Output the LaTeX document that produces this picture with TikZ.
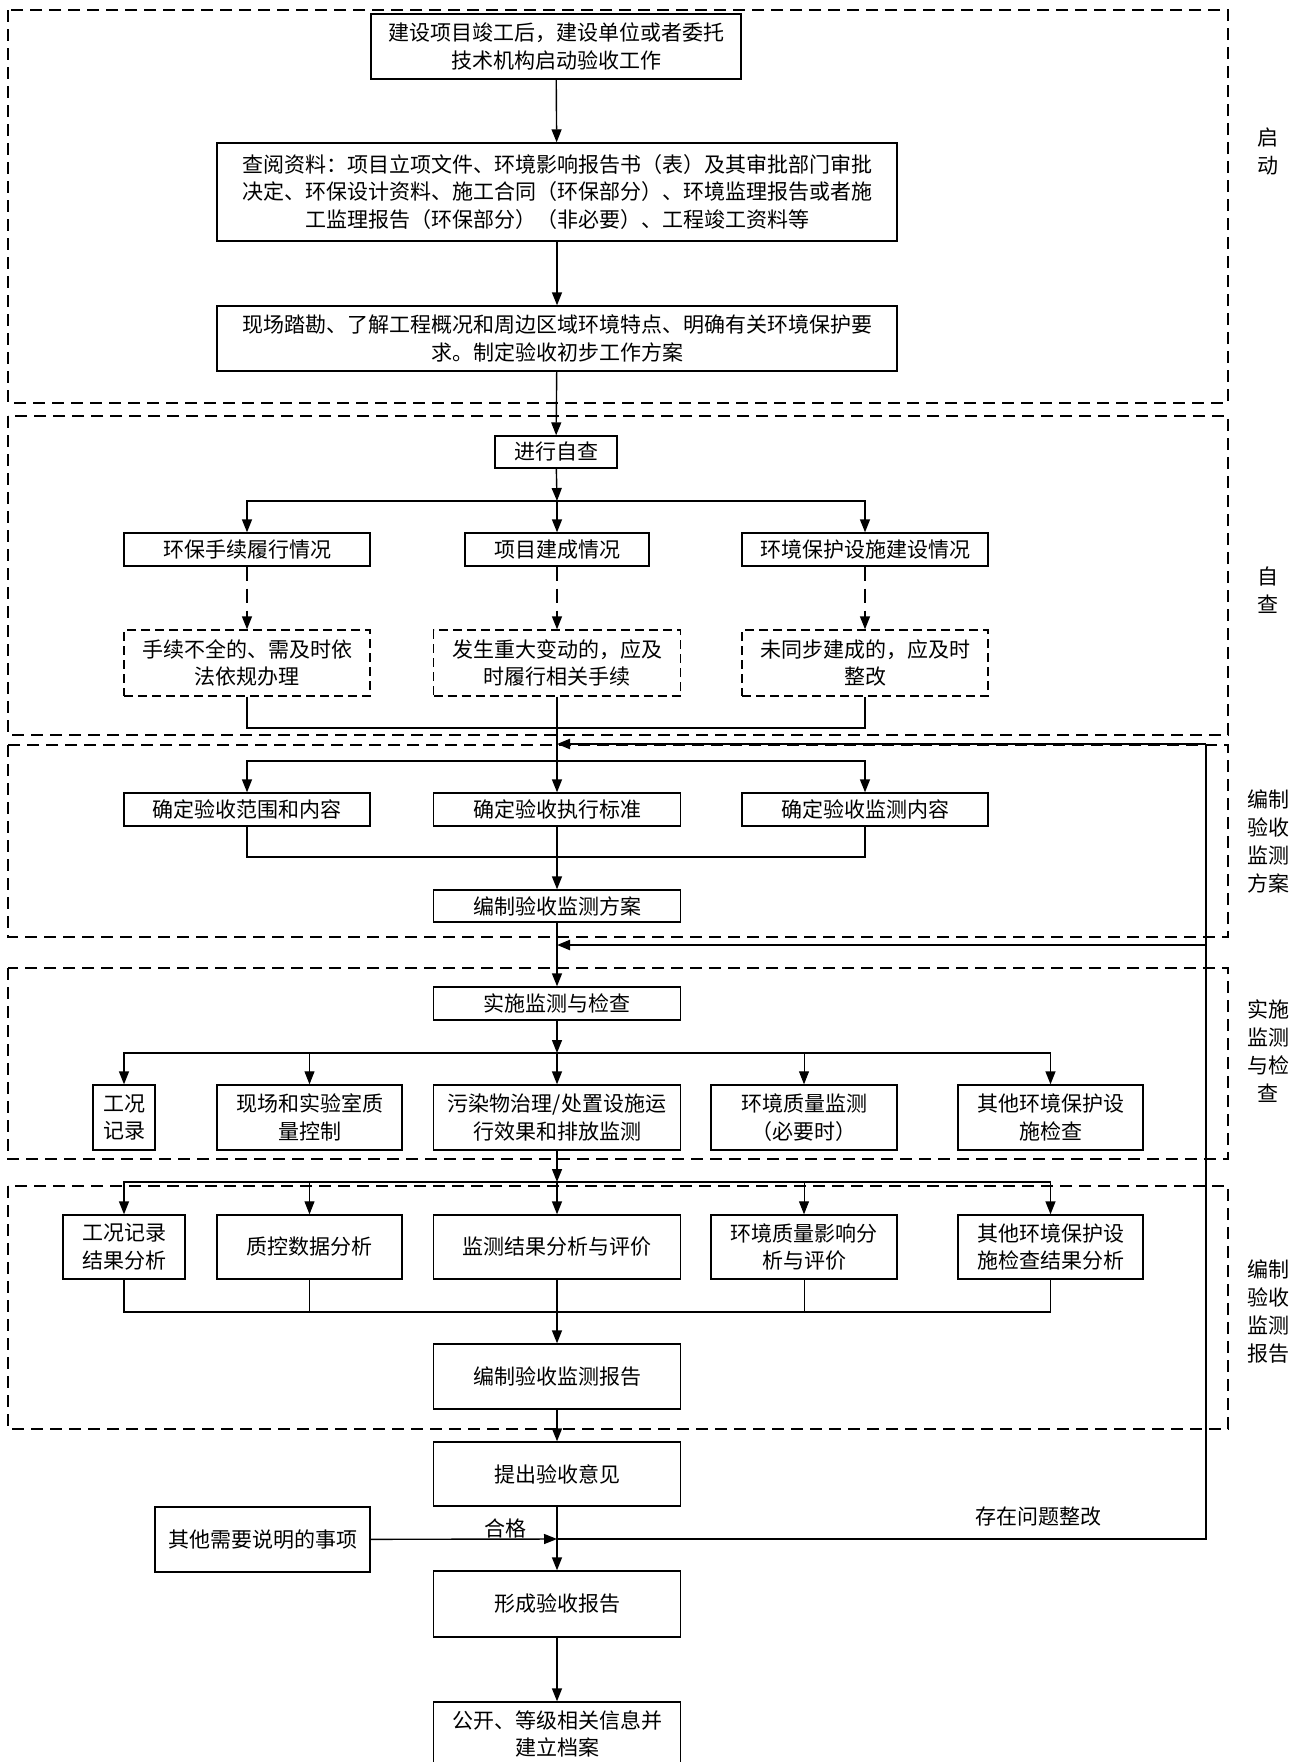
\documentclass[tikz,border=0pt]{standalone}
\usepackage{fontspec}
\setmainfont{Noto Sans CJK SC}
\usetikzlibrary{arrows.meta}
\begin{document}
\begin{tikzpicture}[x=1pt,y=-1pt,
    box/.style={draw,line width=1.4pt,inner sep=0pt,align=center,font=\fontsize{21}{27.5}\selectfont},
    dbox/.style={box,dash pattern=on 9pt off 5pt},
    arr/.style={line width=1.4pt,-{Triangle[length=13pt,width=10pt]}},
    link/.style={line width=1.4pt},
    thinlink/.style={line width=0.9pt},
    back/.style={line width=2.2pt},
    frame/.style={line width=1.8pt,dash pattern=on 12pt off 7pt},
    tag/.style={align=center,font=\fontsize{21}{28}\selectfont}]
\useasboundingbox (0,0) rectangle (1306,1762);
% stage frames
\draw[frame] (8,10) rectangle (1228,403);
\draw[frame] (8,416) rectangle (1228,735);
\draw[frame] (8,745) rectangle (1228,937);
\draw[frame] (8,968) rectangle (1228,1159);
\draw[frame] (8,1186) rectangle (1228,1429);
% stage tags
\node[tag] (t1) at (1268,151.5) {启\\动};
\node[tag] (t2) at (1268,590) {自\\查};
\node[tag] (t3) at (1268,841.5) {编制\\验收\\监测\\方案};
\node[tag] (t4) at (1268,1051) {实施\\监测\\与检\\查};
\node[tag] (t5) at (1268,1312) {编制\\验收\\监测\\报告};
% start
\node[box,minimum width=370pt,minimum height=65pt] (start) at (556,46.5) {建设项目竣工后，建设单位或者委托\\技术机构启动验收工作};
\node[box,minimum width=680pt,minimum height=98pt] (review) at (557,192) {查阅资料：项目立项文件、环境影响报告书（表）及其审批部门审批\\决定、环保设计资料、施工合同（环保部分）、环境监理报告或者施\\工监理报告（环保部分）（非必要）、工程竣工资料等};
\node[box,minimum width=680pt,minimum height=65pt] (survey) at (557,338.5) {现场踏勘、了解工程概况和周边区域环境特点、明确有关环境保护要\\求。制定验收初步工作方案};
% self check
\node[box,minimum width=122pt,minimum height=32pt] (selfcheck) at (556,452) {进行自查};
\node[box,minimum width=246pt,minimum height=33pt] (proc) at (247,549.5) {环保手续履行情况};
\node[box,minimum width=184pt,minimum height=33pt] (built) at (557,549.5) {项目建成情况};
\node[box,minimum width=246pt,minimum height=33pt] (facil) at (865,549.5) {环境保护设施建设情况};
\node[dbox,minimum width=246pt,minimum height=66pt] (procfix) at (247,663) {手续不全的、需及时依\\法依规办理};
\node[dbox,minimum width=247pt,minimum height=66pt] (builtfix) at (557,663) {发生重大变动的，应及\\时履行相关手续};
\node[dbox,minimum width=246pt,minimum height=66pt] (facilfix) at (865,663) {未同步建成的，应及时\\整改};
% monitoring plan
\node[box,minimum width=246pt,minimum height=33pt] (scope) at (247,809.5) {确定验收范围和内容};
\node[box,minimum width=247pt,minimum height=33pt] (std) at (557,809.5) {确定验收执行标准};
\node[box,minimum width=246pt,minimum height=33pt] (content) at (865,809.5) {确定验收监测内容};
\node[box,minimum width=247pt,minimum height=32pt] (plan) at (557,906) {编制验收监测方案};
% monitoring and checking
\node[box,minimum width=247pt,minimum height=33pt] (exec) at (557,1003.5) {实施监测与检查};
\node[box,minimum width=62pt,minimum height=65pt] (rec) at (124,1117.5) {工况\\记录};
\node[box,minimum width=185pt,minimum height=65pt] (qc) at (309.5,1117.5) {现场和实验室质\\量控制};
\node[box,minimum width=247pt,minimum height=65pt] (poll) at (557,1117.5) {污染物治理/处置设施运\\行效果和排放监测};
\node[box,minimum width=186pt,minimum height=65pt] (envq) at (804,1117.5) {环境质量监测\\（必要时）};
\node[box,minimum width=185pt,minimum height=65pt] (other) at (1050.5,1117.5) {其他环境保护设\\施检查};
% monitoring report
\node[box,minimum width=122pt,minimum height=64pt] (recres) at (124,1247) {工况记录\\结果分析};
\node[box,minimum width=185pt,minimum height=64pt] (qcres) at (309.5,1247) {质控数据分析};
\node[box,minimum width=247pt,minimum height=64pt] (pollres) at (557,1247) {监测结果分析与评价};
\node[box,minimum width=186pt,minimum height=64pt] (envqres) at (804,1247) {环境质量影响分\\析与评价};
\node[box,minimum width=185pt,minimum height=64pt] (otherres) at (1050.5,1247) {其他环境保护设\\施检查结果分析};
\node[box,minimum width=247pt,minimum height=65pt] (report) at (557,1376.5) {编制验收监测报告};
% acceptance
\node[box,minimum width=247pt,minimum height=64pt] (opinion) at (557,1474) {提出验收意见};
\node[box,minimum width=215pt,minimum height=65pt] (notes) at (262.5,1539.5) {其他需要说明的事项};
\node[box,minimum width=247pt,minimum height=66pt] (final) at (557,1604) {形成验收报告};
\node[box,minimum width=247pt,minimum height=64pt] (archive) at (557,1734) {公开、等级相关信息并\\建立档案};
\node[tag] (pass) at (505,1528) {合格};
\node[tag] (redo) at (1038,1517) {存在问题整改};
% junctions
\coordinate (b1) at (557,501);
\coordinate (m1) at (557,728);
\coordinate (j1) at (557,744);
\coordinate (b2) at (557,761);
\coordinate (m2) at (557,857);
\coordinate (j2) at (557,945);
\coordinate (b3) at (557,1053);
\coordinate (b4) at (557,1182);
\coordinate (m3) at (557,1312);
\coordinate (j3) at (557,1539);
\coordinate (fbtop) at (1206,744);
\coordinate (fbmid) at (1206,945);
\coordinate (fbbot) at (1206,1539);
% main flow
\draw[arr] (start) -- (review);
\draw[arr] (review) -- (survey);
\draw[arr] (survey) -- (selfcheck);
\draw[arr] (selfcheck) -- (b1);
\draw[arr] (b1) -| (proc.north);
\draw[arr] (b1) -- (built);
\draw[arr] (b1) -| (facil.north);
\draw[arr,dash pattern=on 14pt off 8pt] (proc) -- (procfix);
\draw[arr,dash pattern=on 14pt off 8pt] (built) -- (builtfix);
\draw[arr,dash pattern=on 14pt off 8pt] (facil) -- (facilfix);
\draw[link] (procfix.south) |- (m1) -| (facilfix.south);
\draw[link] (builtfix) -- (b2);
\draw[arr] (b2) -| (scope.north);
\draw[arr] (b2) -- (std);
\draw[arr] (b2) -| (content.north);
\draw[link] (scope.south) |- (m2) -| (content.south);
\draw[arr] (std) -- (plan);
\draw[arr] (plan) -- (exec);
\draw[arr] (exec) -- (b3);
\draw[arr] (b3) -| (rec.north);
\draw[arr] (b3) -| (other.north);
\foreach \n in {qc,envq}
    \draw[arr,line width=0.9pt] (b3 -| \n.north) -- (\n.north);
\draw[arr] (b3) -- (poll);
\draw[arr] (poll) -- (b4);
\draw[arr] (b4) -| (recres.north);
\draw[arr] (b4) -| (otherres.north);
\foreach \n in {qcres,envqres}
    \draw[arr,line width=0.9pt] (b4 -| \n.north) -- (\n.north);
\draw[arr] (b4) -- (pollres);
\draw[link] (recres.south) |- (m3) -| (otherres.south);
\draw[thinlink] (qcres.south) -- (qcres.south |- m3);
\draw[thinlink] (envqres.south) -- (envqres.south |- m3);
\draw[arr] (pollres) -- (report);
\draw[arr] (report) -- (opinion);
\draw[arr] (opinion) -- (final);
\draw[arr] (final) -- (archive);
\draw[arr] (notes) -- (j3);
% back loop
\draw[back] (j3) -- (fbbot) -- (fbtop);
\draw[back,-{Triangle[length=13pt,width=10pt]}] (fbtop) -- (j1);
\draw[back,-{Triangle[length=13pt,width=10pt]}] (fbmid) -- (j2);
\end{tikzpicture}
\end{document}
